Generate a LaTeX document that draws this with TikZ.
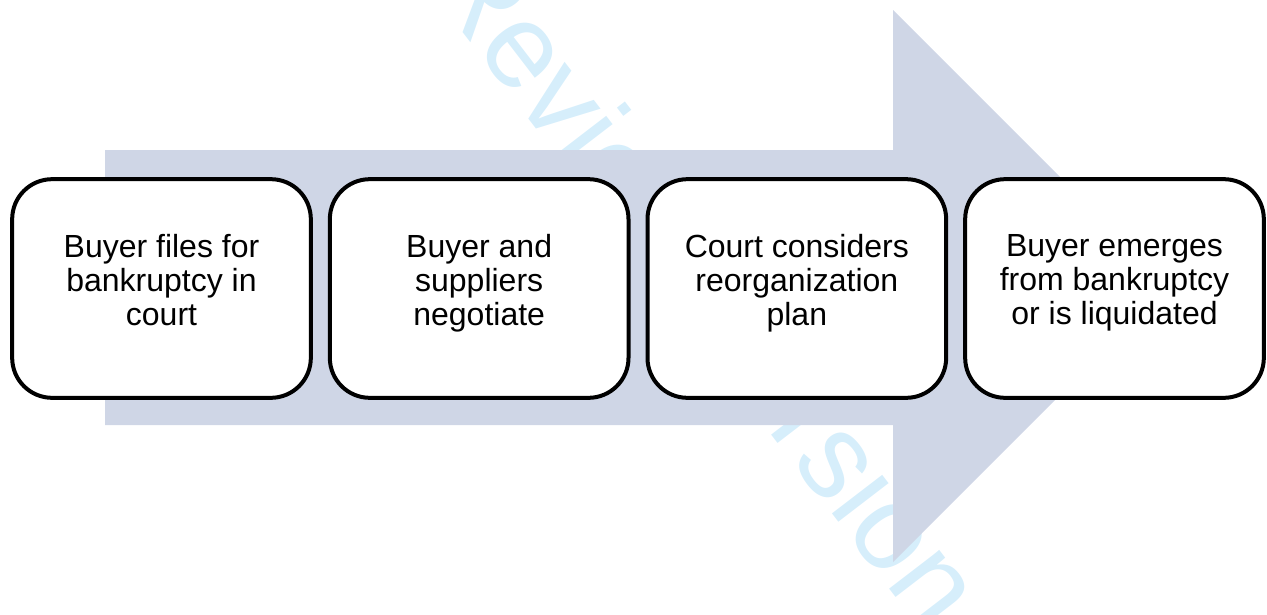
\documentclass[tikz,border=0pt]{standalone}
\usepackage{fontspec}
\setmainfont{Liberation Sans}
\usetikzlibrary{positioning}
\definecolor{arrowfill}{RGB}{207,214,230}
\definecolor{markblue}{RGB}{214,238,251}
\tikzset{
  stepbox/.style={draw=black,line width=3pt,fill=white,rounded corners=30pt,
    minimum width=224pt,minimum height=164pt,align=center,text depth=13.5pt,
    font=\fontsize{24}{25.5}\selectfont},
}
\begin{document}
\begin{tikzpicture}[x=0.75pt,y=-0.75pt]
    \def\shaftl{105}
    \def\shaftr{893}
    \def\shaftt{150}
    \def\shaftb{425}
    \clip (0,0) rectangle (1267,614);
    % faint stamp behind everything
    \node[markblue,rotate=-52.5,anchor=base,font=\fontsize{90}{96}\selectfont] (stamp) at (673,307) {Review Version};
    % big arrow
    \fill[arrowfill] (\shaftl,\shaftt) -- (\shaftr,\shaftt) -- (\shaftr,10) -- (1169,286)
        -- (\shaftr,562) -- (\shaftr,\shaftb) -- (\shaftl,\shaftb) -- cycle;
    % the four steps
    \node[stepbox] (file) at (161.5,288.5) {Buyer files for\\bankruptcy in\\court};
    \node[stepbox,right=11.25pt of file] (talk) {Buyer and\\suppliers\\negotiate};
    \node[stepbox,right=11.25pt of talk] (plan) {Court considers\\reorganization\\plan};
    \node[stepbox,right=11.25pt of plan] (emerge) {Buyer emerges\\from bankruptcy\\or is liquidated};
\end{tikzpicture}
\end{document}
